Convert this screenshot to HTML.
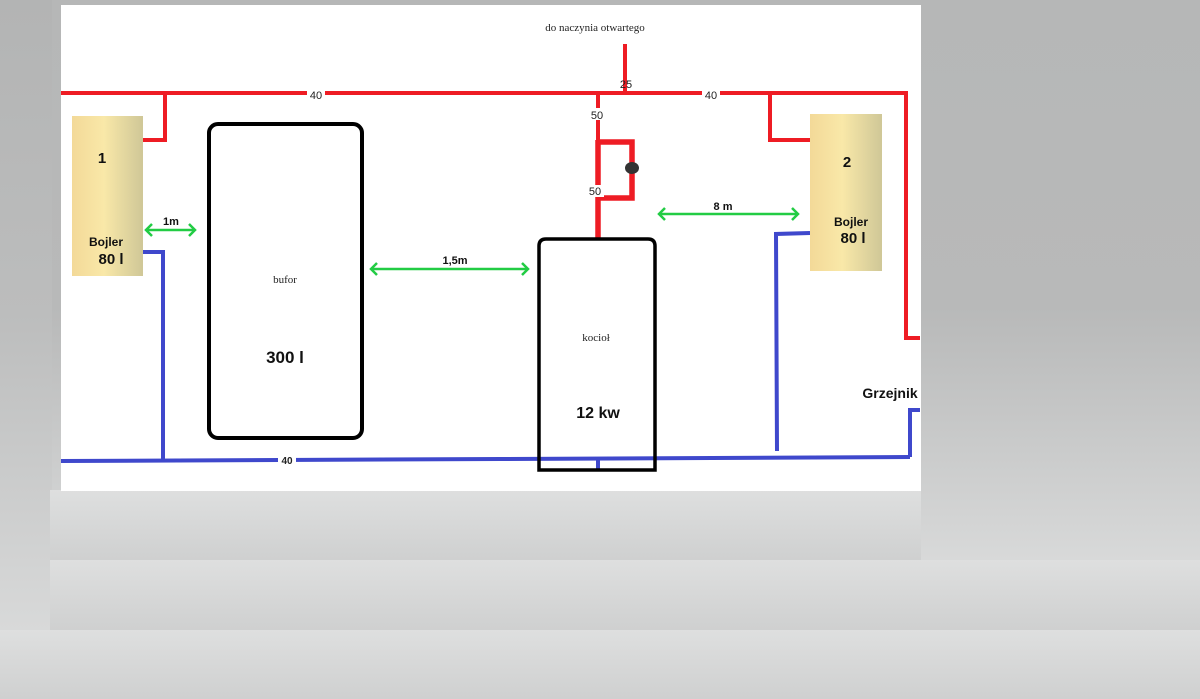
<!DOCTYPE html>
<html><head><meta charset="utf-8"><style>
html,body{margin:0;padding:0;width:1200px;height:699px;overflow:hidden}
svg{display:block}
.sans{font-family:"Liberation Sans",sans-serif}
.serif{font-family:"Liberation Serif",serif}
</style></head><body>
<svg width="1200" height="699" viewBox="0 0 1200 699" xmlns="http://www.w3.org/2000/svg">
<defs>
<linearGradient id="rg" x1="0" y1="0" x2="0" y2="1">
<stop offset="0" stop-color="#b6b7b7"/><stop offset="0.55" stop-color="#b8b9b9"/><stop offset="1" stop-color="#d8d9d9"/>
</linearGradient>
<linearGradient id="lg" x1="0" y1="0" x2="0" y2="1">
<stop offset="0" stop-color="#b3b4b4"/><stop offset="0.5" stop-color="#bcbdbd"/><stop offset="1" stop-color="#d8d9d9"/>
</linearGradient>
<linearGradient id="band" x1="0" y1="0" x2="0" y2="1">
<stop offset="0" stop-color="#dedfdf"/><stop offset="1" stop-color="#cfd0d0"/>
</linearGradient>
<linearGradient id="boil" x1="0" y1="0" x2="1" y2="0">
<stop offset="0" stop-color="#f3d998"/><stop offset="0.45" stop-color="#f9e8a8"/><stop offset="1" stop-color="#cfc797"/>
</linearGradient>
</defs>
<rect width="1200" height="699" fill="#d6d7d7"/>
<rect x="0" y="0" width="1200" height="560" fill="url(#rg)"/>
<rect x="0" y="0" width="52" height="630" fill="url(#lg)"/>
<rect x="50" y="490" width="871" height="70" fill="url(#band)"/>
<rect x="50" y="560" width="1150" height="70" fill="url(#band)"/>
<rect x="0" y="630" width="1200" height="69" fill="url(#band)"/>
<rect x="61" y="5" width="860" height="486" fill="#ffffff"/>

<!-- red pipes -->
<g stroke="#ee1c24" fill="none" stroke-width="4">
<line x1="61" y1="93" x2="908" y2="93"/>
<polyline points="165,93 165,140 143,140"/>
<line x1="625" y1="44" x2="625" y2="93"/>
<line x1="598" y1="93" x2="598" y2="142"/>
<polyline points="770,93 770,140 810,140"/>
<polyline points="906,93 906,338 920,338"/>
</g>
<g stroke="#ee1c24" fill="none" stroke-width="5.5">
<line x1="598" y1="140" x2="598" y2="240"/>
<polyline points="596,142 632,142 632,198 598,198"/>
</g>
<ellipse cx="632" cy="168" rx="7" ry="6" fill="#333"/>

<!-- blue pipes -->
<g stroke="#3f48cc" fill="none" stroke-width="4">
<polyline points="61,461 500,459 910,457"/>
<polyline points="143,252 163,252 163,460"/>
<polyline points="810,233 776,234 777,451"/>
<polyline points="910,457 910,410 920,410"/>
<line x1="598" y1="458" x2="598" y2="470"/>
</g>

<!-- boilers -->
<rect x="72" y="116" width="71" height="160" fill="url(#boil)"/>
<rect x="810" y="114" width="72" height="157" fill="url(#boil)"/>

<!-- bufor -->
<rect x="209" y="124" width="153" height="314" rx="9" fill="none" stroke="#000" stroke-width="4"/>
<!-- kociol -->
<path d="M539,470 L539,246 Q539,239 546,239 L648,239 Q655,239 655,246 L655,470 Z" fill="none" stroke="#000" stroke-width="3.5"/>

<!-- green arrows -->
<g stroke="#22cc44" fill="none" stroke-width="2.5">
<line x1="146" y1="230" x2="195" y2="230"/><polyline points="152,224 146,230 152,236"/><polyline points="189,224 195,230 189,236"/>
<line x1="371" y1="269" x2="528" y2="269"/><polyline points="377,263 371,269 377,275"/><polyline points="522,263 528,269 522,275"/>
<line x1="659" y1="214" x2="798" y2="214"/><polyline points="665,208 659,214 665,220"/><polyline points="792,208 798,214 792,220"/>
</g>

<!-- labels with white bg -->
<rect x="307" y="87" width="18" height="12" fill="#fff"/>
<rect x="702" y="87" width="18" height="12" fill="#fff"/>
<rect x="589" y="108" width="17" height="12" fill="#fff"/>
<rect x="587" y="185" width="17" height="12" fill="#fff"/>
<rect x="278" y="454" width="18" height="12" fill="#fff"/>
<g class="sans" font-size="11" fill="#222" text-anchor="middle">
<text x="316" y="99">40</text>
<text x="711" y="99">40</text>
<text x="626" y="88">25</text>
<text x="597" y="119">50</text>
<text x="595" y="195">50</text>
<text x="287" y="464" font-size="10" font-weight="bold">40</text>
</g>
<g class="serif" font-size="11" fill="#222" text-anchor="middle">
<text x="595" y="31">do naczynia otwartego</text>
<text x="285" y="283">bufor</text>
<text x="596" y="341">kocioł</text>
</g>
<g class="sans" font-weight="bold" fill="#111" text-anchor="middle">
<text x="102" y="163" font-size="15">1</text>
<text x="106" y="246" font-size="12">Bojler</text>
<text x="111" y="264" font-size="15">80 l</text>
<text x="847" y="167" font-size="15">2</text>
<text x="851" y="226" font-size="12">Bojler</text>
<text x="853" y="243" font-size="15">80 l</text>
<text x="171" y="225" font-size="11">1m</text>
<text x="455" y="264" font-size="11">1,5m</text>
<text x="723" y="210" font-size="11">8 m</text>
<text x="285" y="363" font-size="17">300 l</text>
<text x="598" y="418" font-size="16">12 kw</text>
<text x="890" y="398" font-size="14">Grzejnik</text>
</g>
</svg>
</body></html>
